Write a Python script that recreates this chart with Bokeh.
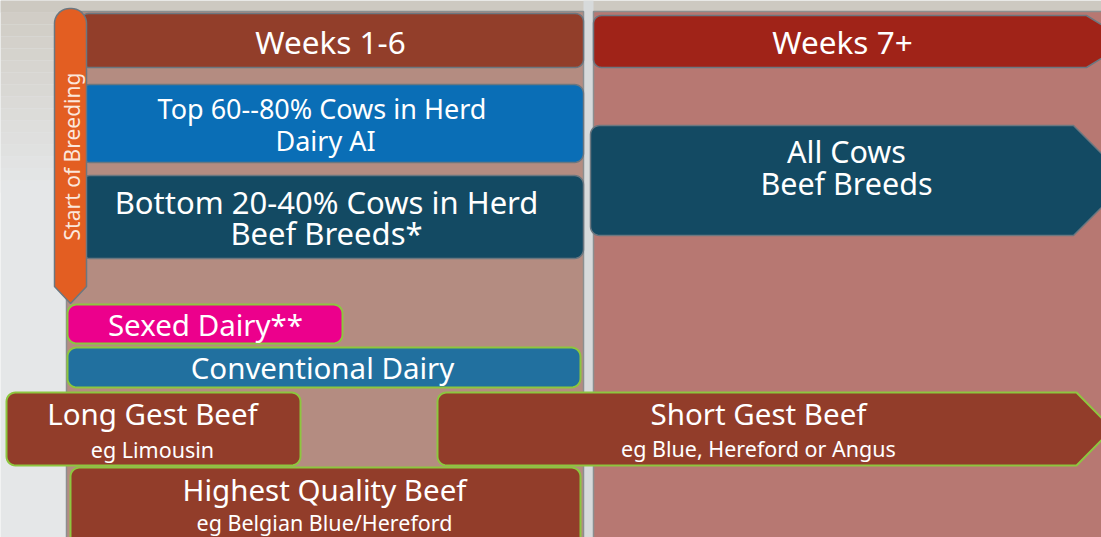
import math
from bokeh.plotting import figure
from bokeh.models import Range1d
from bokeh.core.properties import value
from bokeh.embed import file_html
from bokeh.resources import INLINE

# ---------------- data (texts of the diagram) ----------------
phase_labels = ["Weeks 1-6", "Weeks 7+"]
side_label = "Start of Breeding"
cow_group_titles = ["Top 60--80%  Cows in Herd", "Bottom 20-40% Cows in Herd", "All Cows"]
cow_group_subtitles = ["Dairy AI", "Beef Breeds*", "Beef Breeds"]
semen_titles = ["Sexed Dairy**", "Conventional Dairy", "Long Gest Beef",
                "Short Gest Beef", "Highest Quality Beef"]
semen_subtitles = ["", "", "eg Limousin", "eg Blue, Hereford or Angus",
                   "eg Belgian Blue/Hereford"]

# ---------------- layout (positions / styles) ----------------
W, H = 1101, 537
FONT = value("Noto Sans")

# phase boxes: x0, x1, y0, y1, color
phase_geom = [(80, 583, 13, 67, "#923e2a"),
              (593, 1086, 15, 67, "#a02318")]
phase_tip = [None, 1128]
phase_text_xy = [(330, 41), (842, 41)]

cow_geom = [(80, 583, 84, 162, "#0a6eb6"),
            (80, 583, 175, 258, "#134a63"),
            (590, 1073, 125, 235, "#134a63")]
cow_tip = [None, None, 1128]
cow_text_xy = [(325, 108, 140), (326, 201, 232), (846, 150, 182)]
cow_font = ["27px", "31px", "30.5px"]

semen_geom = [(67, 342, 304, 343, "#ec008c"),
              (67, 580, 347, 387, "#21709f"),
              (6, 300, 392, 465, "#923d2a"),
              (437, 1076, 392, 465, "#923d2a"),
              (70, 580, 467, 548, "#923d2a")]
semen_tip = [None, None, None, 1112, None]
semen_text_xy = [(205, 324, None), (322, 367, None), (152, 413, 449),
                 (758, 413, 448), (324, 489, 522)]

BOX_EDGE = "#6b7780"
GREEN = "#8dc63f"


def box(x0, x1, y0, y1, r=8, tip=None, n=8):
    xs, ys = [], []

    def arc(cx, cy, a0, a1):
        for i in range(n + 1):
            a = a0 + (a1 - a0) * i / n
            xs.append(cx + r * math.cos(a))
            ys.append(cy + r * math.sin(a))

    arc(x0 + r, y0 + r, math.pi, 1.5 * math.pi)
    if tip is None:
        arc(x1 - r, y0 + r, 1.5 * math.pi, 2 * math.pi)
        arc(x1 - r, y1 - r, 0, 0.5 * math.pi)
    else:
        xs.extend([x1, tip, x1])
        ys.extend([y0, (y0 + y1) / 2, y1])
    arc(x0 + r, y1 - r, 0.5 * math.pi, math.pi)
    return xs, ys


p = figure(width=W, height=H, x_range=Range1d(0, W), y_range=Range1d(H, 0),
           output_backend="svg", toolbar_location=None, min_border=0,
           x_axis_type=None, y_axis_type=None)
p.grid.visible = False
p.outline_line_color = None
p.background_fill_color = "#e5e7e8"
p.border_fill_color = "#e5e7e8"

# background: stony top-left fading into light grey
n_steps = 16
for i in range(n_steps):
    t = i / (n_steps - 1)
    c0 = (208, 204, 196)
    c1 = (229, 231, 232)
    col = "#%02x%02x%02x" % tuple(int(c0[k] + (c1[k] - c0[k]) * t) for k in range(3))
    p.quad(left=0, right=70, top=i * 12, bottom=(i + 1) * 12, fill_color=col, line_color=None)
p.quad(left=0, right=W, top=0, bottom=12, fill_color="#cdc9c1", line_color=None)

# column panels + divider
p.quad(left=583, right=593, top=0, bottom=H, fill_color="#d7dadb", line_color=None)
p.quad(left=66, right=583, top=11, bottom=H + 5, fill_color="#b48c81",
       line_color="#8c8f90", line_width=1.5)
p.quad(left=593, right=W + 5, top=11, bottom=H + 5, fill_color="#b77872",
       line_color="#8c8f90", line_width=1.5)

# phase boxes
for (x0, x1, y0, y1, col), tip, lab, (tx, ty) in zip(phase_geom, phase_tip, phase_labels, phase_text_xy):
    bx, by = box(x0, x1, y0, y1, r=8, tip=tip)
    p.patch(bx, by, fill_color=col, line_color=BOX_EDGE, line_width=1.5)
    p.text(x=[tx], y=[ty], text=[lab], text_align="center", text_baseline="middle",
           text_color="white", text_font=FONT, text_font_size="31.5px")

# cow-group boxes
for (x0, x1, y0, y1, col), tip, t1, t2, (tx, ty1, ty2), fs in zip(
        cow_geom, cow_tip, cow_group_titles, cow_group_subtitles, cow_text_xy, cow_font):
    bx, by = box(x0, x1, y0, y1, r=9, tip=tip)
    p.patch(bx, by, fill_color=col, line_color=BOX_EDGE, line_width=1.5)
    p.text(x=[tx, tx], y=[ty1, ty2], text=[t1, t2], text_align="center",
           text_baseline="middle", text_color="white", text_font=FONT,
           text_font_size=fs)

# start of breeding arrow (drawn over the left ends of the boxes)
ox0, ox1 = 54, 86
xs, ys = [], []
r = 15
for i in range(11):
    a = math.pi + 0.5 * math.pi * i / 10
    xs.append(ox0 + r + r * math.cos(a)); ys.append(8 + r + r * math.sin(a))
for i in range(11):
    a = 1.5 * math.pi + 0.5 * math.pi * i / 10
    xs.append(ox1 - r + r * math.cos(a)); ys.append(8 + r + r * math.sin(a))
xs += [ox1, (ox0 + ox1) / 2, ox0]
ys += [286, 303, 286]
p.patch(xs, ys, fill_color="#e35e22", line_color=BOX_EDGE, line_width=1.5)
p.text(x=[71], y=[156], text=[side_label], angle=90, angle_units="deg",
       text_align="center", text_baseline="middle", text_color="#fbe7dc",
       text_font=FONT, text_font_size="21px")

# semen-type boxes
for (x0, x1, y0, y1, col), tip, t1, t2, (tx, ty1, ty2) in zip(
        semen_geom, semen_tip, semen_titles, semen_subtitles, semen_text_xy):
    bx, by = box(x0, x1, y0, y1, r=9, tip=tip)
    p.patch(bx, by, fill_color=col, line_color=GREEN, line_width=2)
    p.text(x=[tx], y=[ty1], text=[t1], text_align="center", text_baseline="middle",
           text_color="white", text_font=FONT, text_font_size="29.5px")
    if t2:
        p.text(x=[tx], y=[ty2], text=[t2], text_align="center", text_baseline="middle",
               text_color="white", text_font=FONT, text_font_size="21.5px")

open("out.html", "w").write(file_html(p, INLINE))
